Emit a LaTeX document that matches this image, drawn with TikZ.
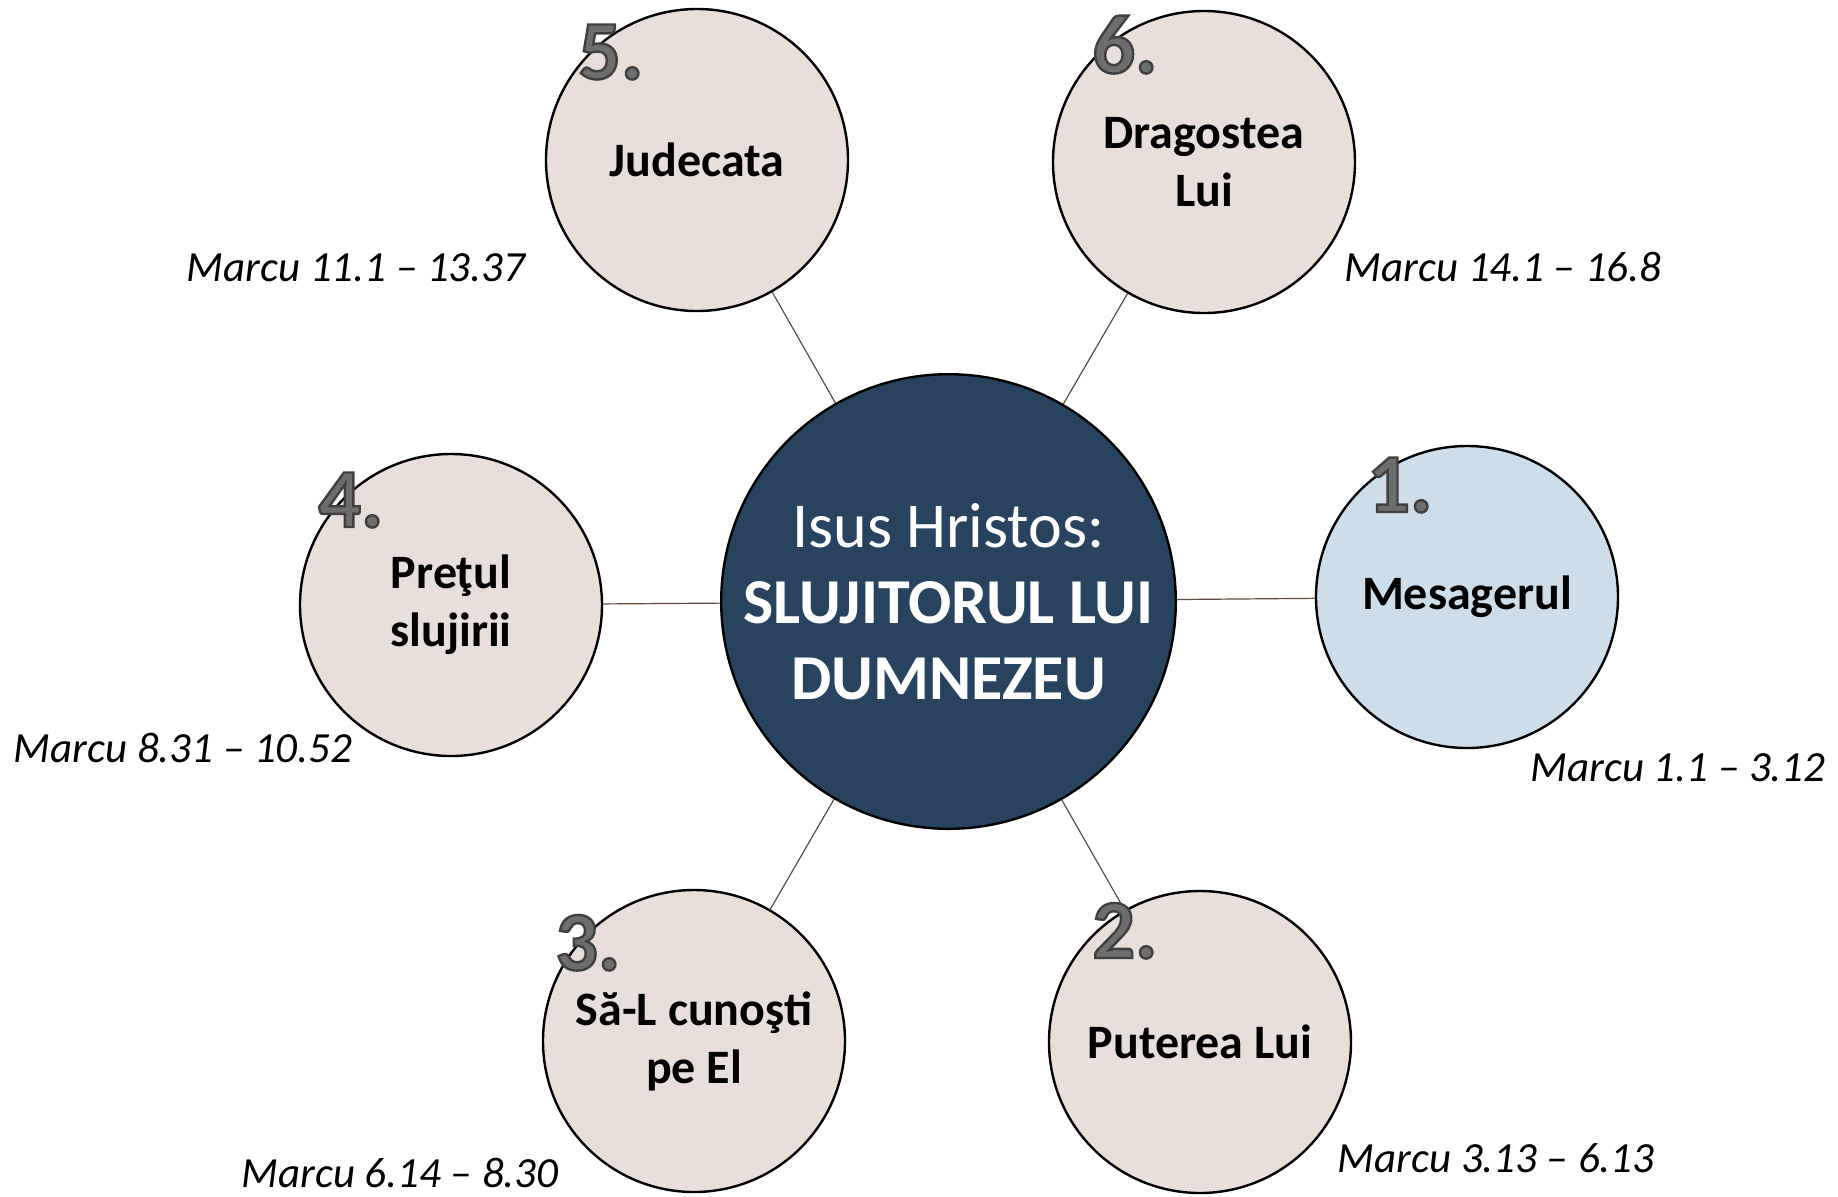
\documentclass[tikz,border=0pt]{standalone}
\usepackage{fontspec}
\setmainfont{Carlito}
\definecolor{navyfill}{HTML}{27435F}
\definecolor{satfill}{HTML}{E8DEDA}
\definecolor{bluefill}{HTML}{CDDDE9}
\definecolor{numgray}{HTML}{6E6E6E}
\definecolor{connbrown}{HTML}{5E4B40}
\newcommand{\outlined}[1]{\special{pdf:literal direct 0.25 0.25 0.25 RG 1.2 w 2 Tr}#1\special{pdf:literal direct 0 Tr}}
\tikzset{
  hub/.style={circle, draw=black, line width=1.2pt, fill=navyfill, minimum size=227pt, inner sep=0pt,
    align=center, text=white, font=\fontsize{32}{38}\selectfont},
  sat/.style={circle, draw=black, line width=1.2pt, fill=satfill, minimum size=151pt, inner sep=0pt,
    align=center, font=\fontsize{24}{29}\selectfont\bfseries},
  refnote/.style={anchor=base, inner sep=0pt, font=\fontsize{21.5}{26}\selectfont\itshape},
  numlabel/.style={anchor=base west, inner sep=0pt, text=numgray, font=\fontsize{42}{50}\selectfont\bfseries},
  conn/.style={draw=connbrown, line width=0.6pt}
}
\begin{document}
\begin{tikzpicture}[x=0.5pt,y=-0.5pt]
\useasboundingbox (0,0) rectangle (1838,1196);
% hub
\node[hub] (c) at (948.5,601.5) {Isus Hristos:\\ \textbf{SLUJITORUL LUI}\\ \textbf{DUMNEZEU}};
% satellites
\node[sat, fill=bluefill] (s1) at (1467,597) {Mesagerul};
\node[sat] (s2) at (1200,1042) {Puterea Lui};
\node[sat] (s3) at (694,1041) {Să-L cunoşti\\ pe El};
\node[sat] (s4) at (451,605) {Preţul\\ slujirii};
\node[sat] (s5) at (697,160) {Judecata};
\node[sat] (s6) at (1204,162) {Dragostea\\ Lui};
% connectors
\foreach \s in {s1,s2,s3,s4,s5,s6} \draw[conn] (c) -- (\s);
% numbers
\node[numlabel] (n1) at (1367,512) {\outlined{1.}};
\node[numlabel] (n2) at (1092,958) {\outlined{2.}};
\node[numlabel] (n3) at (555,970) {\outlined{3.}};
\node[numlabel] (n4) at (318,527) {\outlined{4.}};
\node[numlabel] (n5) at (578,79) {\outlined{5.}};
\node[numlabel] (n6) at (1092,73) {\outlined{6.}};
% references
\node[refnote] (r1) at (1678,781) {Marcu 1.1 – 3.12};
\node[refnote] (r2) at (1496,1172) {Marcu 3.13 – 6.13};
\node[refnote] (r3) at (400,1187) {Marcu 6.14 – 8.30};
\node[refnote] (r4) at (183,762) {Marcu 8.31 – 10.52};
\node[refnote] (r5) at (356,281) {Marcu 11.1 – 13.37};
\node[refnote] (r6) at (1503,281) {Marcu 14.1 – 16.8};
\end{tikzpicture}
\end{document}
